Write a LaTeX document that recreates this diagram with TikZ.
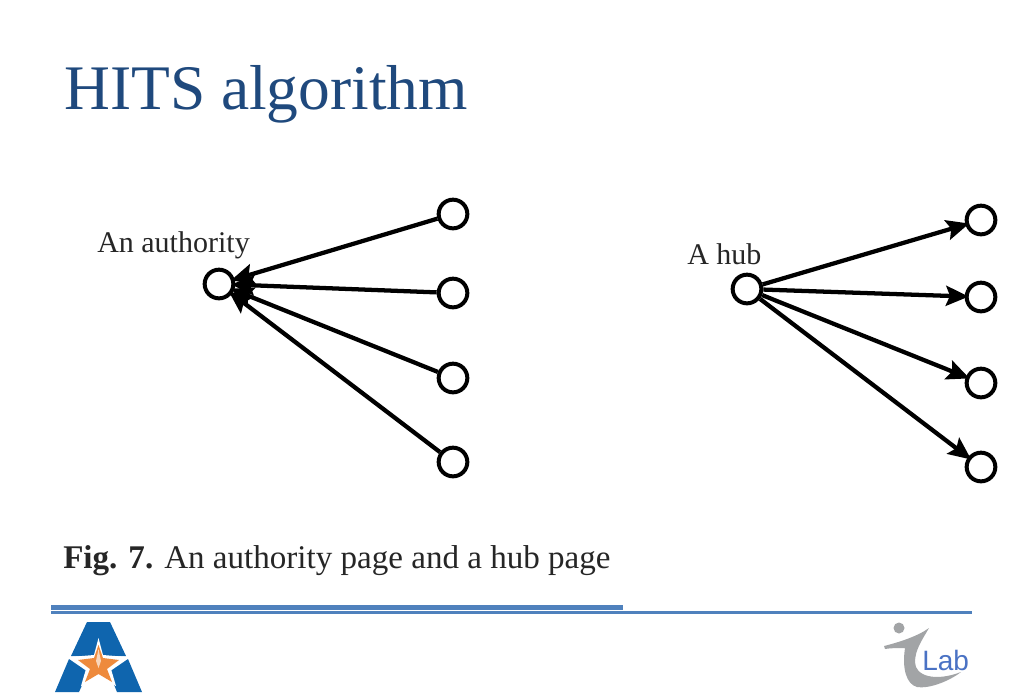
\documentclass[tikz,border=0pt]{standalone}
\usepackage{fontspec}
\setmainfont{Liberation Serif}
\newfontfamily\labfont{Liberation Sans}
\usetikzlibrary{arrows.meta}
\definecolor{titleblue}{HTML}{1F497D}
\definecolor{rulebl}{HTML}{4F81BD}
\definecolor{utablue}{HTML}{0F65AE}
\definecolor{utaorange}{HTML}{EE8A3C}
\definecolor{labgray}{HTML}{A2A4A6}
\definecolor{labblue}{HTML}{4A72C4}
\tikzset{
  vertex/.style={circle,draw=black,line width=3pt,minimum size=21.5pt,inner sep=0pt,fill=white},
  link/.style={line width=3.2pt,draw=black,-{Stealth[length=17pt,width=15pt,inset=3pt]},shorten >=-3pt},
  caption/.style={inner sep=0pt,text=black!85,anchor=base west},
}
\begin{document}
\begin{tikzpicture}[x=0.75pt,y=-0.75pt]
\useasboundingbox (0,0) rectangle (1024,694);
\fill[white] (0,0) rectangle (1024,694);
\node[inner sep=0pt,anchor=base west,text=titleblue,font=\fontsize{47.6}{50}\selectfont] (title) at (64,109) {HITS algorithm};
% authority
\node[vertex] (a) at (219,284) {};
\node[vertex] (a1) at (453,214) {};
\node[vertex] (a2) at (453,293) {};
\node[vertex] (a3) at (453,378) {};
\node[vertex] (a4) at (453,462) {};
\foreach \s in {a1,a2,a3,a4} \draw[link] (\s) -- (a);
\node[caption,font=\fontsize{22.5}{25}\selectfont] (alab) at (97,252) {An authority};
% hub
\node[vertex] (h) at (747,289) {};
\node[vertex] (h1) at (981,220) {};
\node[vertex] (h2) at (981,297) {};
\node[vertex] (h3) at (981,383) {};
\node[vertex] (h4) at (981,467) {};
\foreach \t in {h1,h2,h3,h4} \draw[link] (h) -- (\t);
\node[caption,font=\fontsize{22.5}{25}\selectfont] (hlab) at (687,264) {A hub};
% caption
\node[caption,font=\fontsize{24.8}{28}\selectfont] (cap) at (63,568) {\textbf{Fig. 7.} An authority page and a hub page};
% rules
\fill[rulebl] (51,604.5) rectangle (623,610);
\fill[rulebl] (51,611) rectangle (972,613.5);
% UTA logo
\fill[utablue] (87,622) -- (110,622) -- (126,656) -- (71,656) -- cycle;
\fill[utablue] (69,659) -- (55,692) -- (79,692) -- (88,672) -- cycle;
\fill[utablue] (128,659) -- (142,692) -- (117,692) -- (109,672) -- cycle;
\fill[white] (98.5,638) -- (103,655) -- (127,657) -- (111,669) -- (116,686) -- (98.5,677) -- (81,686) -- (86,669) -- (70,657) -- (94,655) -- cycle;
\fill[utaorange] (98.5,645) -- (103,658) -- (119,660) -- (107,669) -- (112,682) -- (98.5,674) -- (85,682) -- (90,669) -- (78,660) -- (94,658) -- cycle;
\fill[white!65!utaorange] (98.5,649) -- (101,661) -- (98.5,668) -- (96,661) -- cycle;
% iLab logo
\fill[labgray] (899,628) circle (5.5);
\fill[labgray] (884,646) .. controls (900,642) and (918,636) .. (929,628) .. controls (922,640) and (915,650) .. (915,662) .. controls (915,676) and (935,682) .. (961,672) .. controls (948,682) and (928,689) .. (917,687) .. controls (906,684) and (902,668) .. (905,648) .. controls (898,648) and (890,648) .. (885,649) -- cycle;
\node[inner sep=0pt,anchor=base west,text=labblue,font=\labfont\fontsize{21}{24}\selectfont] (lab) at (922,670) {Lab};
\end{tikzpicture}
\end{document}
